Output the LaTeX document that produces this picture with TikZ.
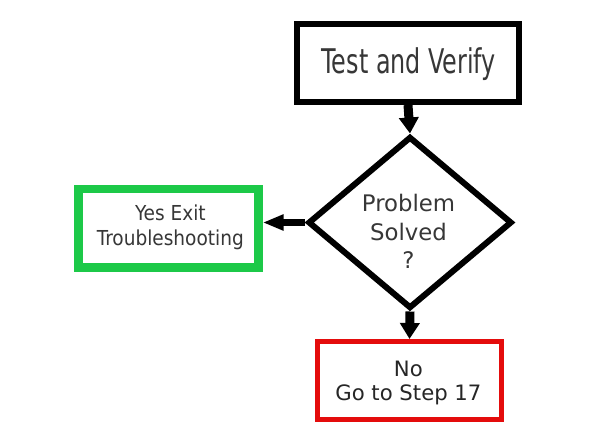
\documentclass[tikz,border=0pt]{standalone}
\usepackage{fontspec}
\usepackage{graphicx}
\setmainfont{DejaVu Sans}
\newfontfamily\condfont{DejaVu Sans Condensed}
\usetikzlibrary{shapes.geometric,arrows.meta}
\definecolor{boxgreen}{RGB}{28,201,72}
\definecolor{boxred}{RGB}{228,12,12}
\definecolor{txtgray}{RGB}{55,55,55}
\tikzset{
  box/.style={draw=black, fill=white, rectangle, inner sep=0pt},
  lbl/.style={align=center, inner sep=0pt, text=txtgray},
  arr/.style={draw=black, line width=9pt, -{Triangle[width=19pt,length=16pt]}},
  arrside/.style={draw=black, line width=7pt, -{Triangle[width=15pt,length=21pt]}}
}
\begin{document}
\begin{tikzpicture}[x=1pt,y=-1pt]
\useasboundingbox[fill=white] (0,0) rectangle (592,444);
% shapes
\node[box, line width=6pt, minimum width=222.5pt, minimum height=78pt] (top) at (408,63) {};
\node[draw=black, fill=white, diamond, line width=6pt, inner sep=0pt, minimum width=204pt, minimum height=172pt] (dia) at (410,222.5) {};
\node[box, draw=boxgreen, line width=8.5pt, minimum width=180pt, minimum height=78.5pt] (yes) at (168.4,228.2) {};
\node[box, draw=boxred, line width=5pt, minimum width=184pt, minimum height=78pt] (no) at (409.5,380.5) {};
% texts
\node[lbl, font=\condfont\fontsize{34}{40}\selectfont] (ttop) at (408.9,64.4) {\scalebox{0.78}[1]{Test and Verify}};
\node[lbl, font=\fontsize{22.8}{28.3}\selectfont] (tdia) at (408.5,231.5) {Problem\\Solved\\?};
\node[lbl, font=\condfont\fontsize{20.6}{25}\selectfont] (tyes) at (170.4,227.1) {Yes Exit\\Troubleshooting};
\node[lbl, text=black!85, font=\fontsize{21.2}{24.5}\selectfont] (tno) at (408.4,382.8) {No\\Go to Step 17};
% connectors
\draw[arr] (top.south) -- (dia.north);
\draw[arrside] (dia.west) -- (dia.west -| yes.east);
\draw[arr] (dia.south) -- (no.north);
\end{tikzpicture}
\end{document}
